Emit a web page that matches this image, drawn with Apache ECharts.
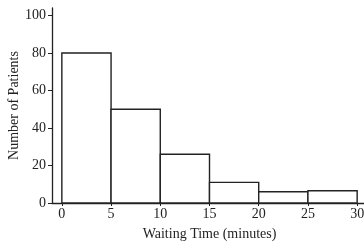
<!DOCTYPE html>
<html><head><meta charset="utf-8">
<script src="https://cdn.jsdelivr.net/npm/echarts@6/dist/echarts.min.js"></script>
<style>html,body{margin:0;padding:0;background:#fff}#c{width:364px;height:244px}</style>
</head><body><div id="c"></div>
<script>
const binStarts = [0, 5, 10, 15, 20, 25];
const binEnds = [5, 10, 15, 20, 25, 30];
const counts = [80, 50, 26, 11, 6, 6.5];
const xTicks = [0, 5, 10, 15, 20, 25, 30];
const yTicks = [0, 20, 40, 60, 80, 100];

const data = binStarts.map((s, i) => [s, binEnds[i], counts[i]]);
const font = '"Liberation Serif", "DejaVu Serif", serif';
const chart = echarts.init(document.getElementById('c'));
chart.setOption({
  animation: false,
  backgroundColor: '#fff',
  grid: {left: 52, top: 8, bottom: 41, right: -3, containLabel: false, outerBoundsMode: 'none'},
  xAxis: {
    type: 'value', min: -1, max: 31,
    name: 'Waiting Time (minutes)', nameLocation: 'middle', nameGap: 24, nameMoveOverlap: false,
    nameTextStyle: {fontFamily: font, fontSize: 14, color: '#222'},
    axisLine: {show: true, onZero: false, lineStyle: {color: '#222', width: 1.3}},
    axisTick: {show: true, customValues: xTicks, length: 3, lineStyle: {color: '#222'}},
    axisLabel: {customValues: xTicks, fontFamily: font, fontSize: 14, color: '#222', margin: 4},
    splitLine: {show: false}
  },
  yAxis: {
    type: 'value', min: 0, max: 104,
    name: 'Number of Patients', nameLocation: 'middle', nameGap: 31, nameRotate: 90, nameMoveOverlap: false,
    nameTextStyle: {fontFamily: font, fontSize: 14, color: '#222'},
    axisLine: {show: true, onZero: false, lineStyle: {color: '#222', width: 1.3}},
    axisTick: {show: true, customValues: yTicks, length: 4, lineStyle: {color: '#222'}},
    axisLabel: {customValues: yTicks, fontFamily: font, fontSize: 14, color: '#222', margin: 6},
    splitLine: {show: false}
  },
  series: [{
    type: 'custom',
    data: data,
    encode: {x: [0, 1], y: 2},
    renderItem: function (params, api) {
      const p0 = api.coord([api.value(0), api.value(2)]);
      const p1 = api.coord([api.value(1), 0]);
      return {
        type: 'rect',
        shape: {x: p0[0], y: p0[1], width: p1[0] - p0[0], height: p1[1] - p0[1]},
        style: {fill: '#fff', stroke: '#222', lineWidth: 1.4}
      };
    }
  }]
});
</script></body></html>
